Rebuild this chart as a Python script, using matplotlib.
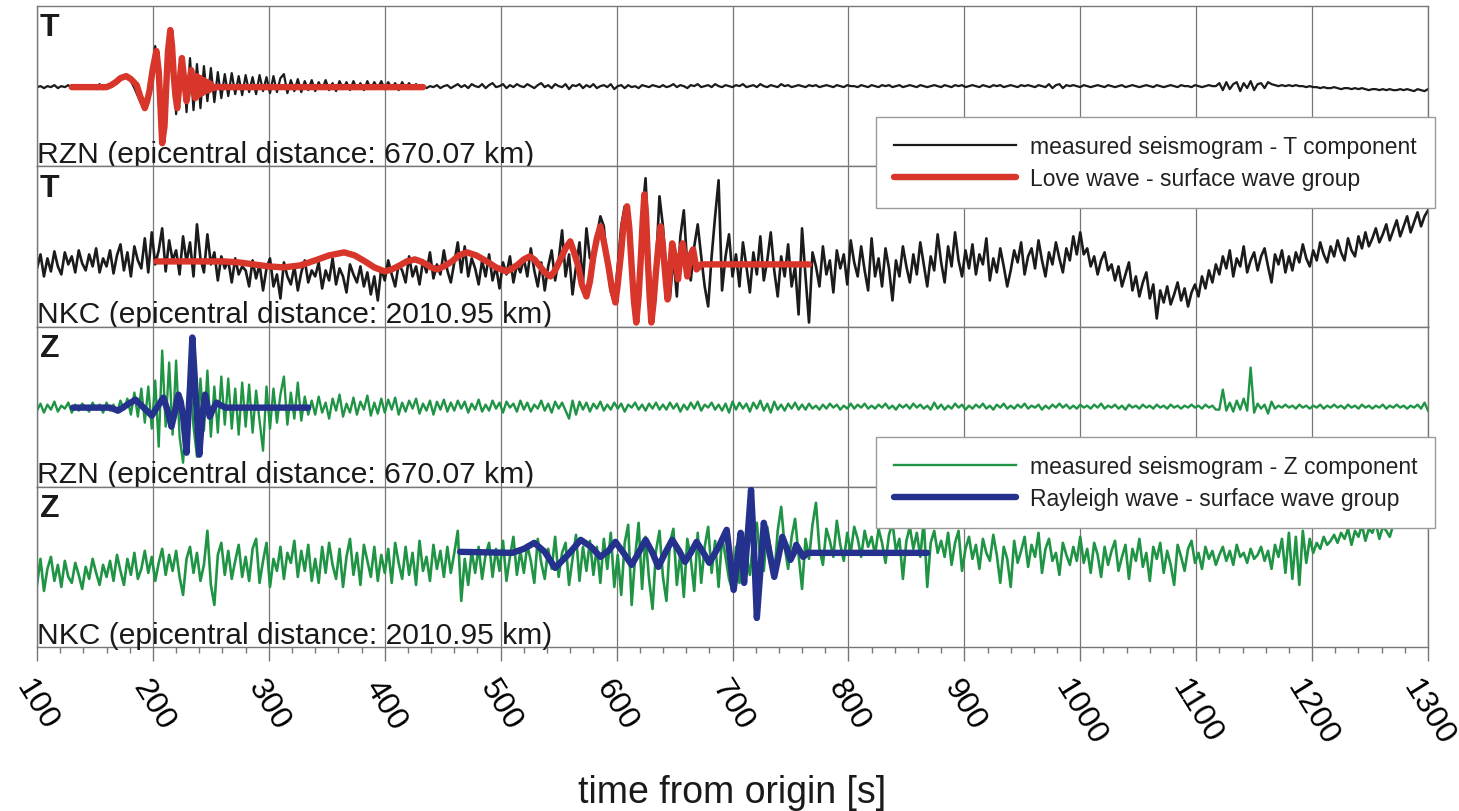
import numpy as np
import matplotlib.pyplot as plt
from matplotlib.ticker import MultipleLocator

plt.rcParams['font.family'] = ['Liberation Sans', 'DejaVu Sans']

# measured seismograms, one sample every 3 s starting at 100 s (amplitude, + up)
rzn_t = [
    -1, 0, -2, 0, -1, 1, -2, 0, -1, 1, -2, -1, 0, -2, 0, -1, 1, -3, 2, -3,
    1, 0, 3, 6, 9, 11, 9, 5, -2, -10, -18, -21, -10, 15, 40, 5, -52, -10, 50, 30,
    -28, 10, 28, -26, 28, -24, 22, -22, 20, -15, 18, -16, 14, -12, 12, -10, 13, -8, 10, -9,
    11, -6, 9, -8, 11, -5, 9, -7, 10, -6, 8, 12, -7, 6, -5, 7, -6, 5, -4, 6,
    -5, 4, -3, 6, -4, 3, -5, 5, -3, 4, -4, 5, -3, 3, -4, 5, -3, 4, -2, 5,
    -3, 4, -2, 3, -4, 4, -2, 3, -3, 2, -2, 1, -2, 0, -1, 1, -2, 0, 1, -2,
    0, 2, -1, 1, -2, 2, 0, -1, 2, -2, 1, 3, -1, 0, 2, -2, 1, -1, 2, 0,
    -1, 2, 0, -2, 1, 3, -1, 1, -2, 2, 0, -1, 2, -3, 1, 0, 2, -2, 1, -1,
    2, -2, 0, 1, -1, 2, -3, 0, 1, -2, 1, -1, 0, -2, 1, 0, -1, 1, 0, -1,
    1, -1, 0, 2, -1, 1, 0, -2, 1, 0, 2, -1, 0, 1, -1, 2, 0, -1, 1, 0,
    -1, 1, 0, 2, -1, 0, 1, -1, 2, 0, -1, 1, 0, -1, 2, 0, 1, -1, 0, 1,
    0, -1, 1, 0, 1, -1, 0, 1, 0, -1, 1, 0, -1, 1, 0, 0, -1, 1, 0, -1,
    1, 0, -1, 1, 0, 1, -1, 0, 1, -1, 0, 1, 0, -1, 1, 0, -1, 0, 1, 0,
    -1, 1, 0, -1, 1, 0, 1, -1, 0, 1, 0, -1, 1, 0, -1, 1, 0, 1, -1, 0,
    1, 0, -1, 1, 0, 1, 0, -1, 1, 0, -1, 2, -2, 1, 2, -2, 1, 0, 1, 0,
    -1, 1, 0, -1, 0, 1, 0, -1, 1, 0, -1, 0, 1, -1, 0, 1, 0, -1, 0, 1,
    0, -1, 1, 0, -1, 0, 1, 0, -1, 1, 0, 0, -1, 1, 0, -1, 0, 1, 0, 0,
    3, -4, 4, -3, 2, 4, -5, 3, -2, 5, -4, 2, 3, -2, 4, 2, 1, 0, 1, 0,
    1, 0, 1, 0, 0, -1, 0, -1, -1, -2, -1, -2, -2, -1, -2, -3, -2, -2, -3, -2,
    -3, -2, -3, -4, -3, -3, -4, -3, -4, -3, -4, -4, -3, -4, -3, -4, -5, -3, -4, -5,
    -3,
]

nkc_t = [
    -22, -8, -30, -12, -25, -5, -20, -28, -6, -18, -10, -26, -4, -17, -24, -8, -20, -2, -26, -12,
    -20, -4, -27, -9, 2, -24, -6, -30, 0, -14, -22, 8, -26, 14, -18, -4, 18, -25, 6, -14,
    -4, -28, 10, -16, 4, -30, 22, -12, -26, 12, -18, -6, -34, -10, -22, -14, -36, -12, -28, -20,
    -24, -40, -14, -32, -18, -44, -22, -12, -40, -28, -52, -16, -30, -38, -20, -44, -26, -14, -36, -24,
    -30, -16, -42, -24, -34, -12, -38, -22, -30, -46, -18, -28, -36, -20, -40, -26, -48, -30, -54, -22,
    -34, -14, -28, -40, -18, -24, -36, -10, -30, -20, -38, -14, -26, -6, -32, -18, -28, -4, -24, -36,
    -16, 4, -26, 0, -30, -12, -22, -38, -14, -30, -8, -34, -20, -42, -16, -28, -10, -36, -18, -26,
    -12, -30, -2, -24, -40, -16, -44, -20, -4, -34, -14, 16, -30, -8, -48, -20, 4, -36, 18, -12,
    -10, 10, 30, 20, -20, -45, -56, -20, 20, 40, 30, -30, -72, -40, 30, 68, -10, -76, -20, 50,
    20, -30, -52, -10, -50, 10, 36, -20, -34, 0, 22, -10, -40, -60, -10, 30, 66, -44, -10, 12,
    -30, -8, -40, 4, -20, -46, -6, -28, 10, -34, -14, 14, -24, -50, -10, -30, 2, -40, -20, -68,
    18, -30, -76, -6, -20, -40, 0, -28, -14, -46, -4, -22, -8, -38, 6, -16, -30, 0, -24, -44,
    8, -30, -12, -40, -2, -22, -54, -14, -30, 0, -20, -36, -8, -28, 4, -18, -40, -10, -24, 12,
    -16, -36, 0, -20, 14, -14, -30, -4, -22, 2, -28, -8, -18, 8, -34, -12, -26, -2, -20, -40,
    -24, -4, -16, 4, -28, -10, -2, -22, 6, -14, -30, -6, -18, 4, -12, -26, -2, -14, 10, -8,
    14, -8, -2, -20, -10, -28, -14, -6, -24, -18, -34, -20, -40, -28, -16, -44, -30, -50, -36, -26,
    -52, -38, -72, -44, -56, -40, -58, -48, -36, -54, -42, -60, -46, -38, -50, -30, -42, -24, -36, -18,
    -28, -10, -22, -4, -30, -12, -20, 0, -26, -14, -6, -24, -10, -2, -20, -36, -8, -18, -4, -26,
    -10, -24, -6, -16, 2, -12, -20, -4, -14, 4, -8, -16, 0, -10, 6, -6, -14, 8, -4, -10,
    10, -2, 14, 0, 8, 18, 4, 12, 22, 6, 16, 26, 10, 20, 30, 14, 24, 34, 20, 30,
    36,
]

rzn_z = [
    -4, 3, -6, 2, -3, 5, -5, 1, -2, 4, -6, 2, -4, 3, -1, -5, 4, -3, 2, -6,
    4, -4, 2, -6, 6, -3, 8, -8, 14, -10, 18, -16, 20, -22, 26, -40, 56, -20, 44, -28,
    46, -30, -56, -10, 30, -20, -50, 28, -24, 36, -30, 20, -26, 30, -18, 28, -22, 18, -28, 24,
    -20, 22, -26, 16, -14, -44, 20, -22, 18, -16, 12, 30, -18, 14, -12, 24, -14, 10, -8, 6,
    -8, 10, -6, 4, -12, 8, -4, 12, -10, 3, -6, 9, -8, 5, -3, 11, -9, 4, -7, 8,
    -6, 7, -3, 9, -8, 4, -5, 6, -2, 8, -7, 3, -4, 6, -8, 5, -3, 7, -5, 4,
    -4, 6, -2, 5, -6, 3, -3, 7, -5, 2, -4, 6, -2, 4, -6, 5, -1, 3, -5, 6,
    -3, 4, -5, 2, -2, 6, -4, 3, -6, 5, -2, 4, -4, -12, 6, -8, 5, -3, 4, -5,
    3, -2, 5, -4, 2, -3, 4, -2, 3, -5, 2, -1, 4, -3, 2, -4, 3, -2, 4, -3,
    2, -3, 4, -2, 3, -5, 2, -3, 4, -2, 5, -4, 2, -1, 4, -3, 2, -4, 3, -6,
    5, -3, 4, -2, 3, -5, 4, -2, 6, -4, 3, -6, 5, -3, 2, -4, 3, -2, 4, -3,
    2, -3, 3, -2, 1, -3, 2, -2, 3, -1, 2, -3, 1, -2, 3, -2, 2, -1, 3, -2,
    1, -2, 2, -1, 3, -2, 1, -3, 2, -1, 2, -2, 3, -1, 2, -2, 1, -3, 4, -2,
    2, -3, 1, -2, 3, -1, 2, -3, 1, -2, 2, -1, 3, -2, 1, -3, 2, -1, 3, -2,
    1, -2, 2, -1, 3, -2, 1, -1, 2, -3, 1, -2, 2, -1, 3, -1, 2, -2, 1, -2,
    2, -1, 1, -2, 2, -1, 3, -2, 1, -1, 2, -2, 1, -3, 2, -1, 1, -2, 2, -1,
    1, -2, 2, -1, 1, -2, 2, -1, 1, -2, 1, -1, 2, -1, 1, -2, 2, -1, 1, -3,
    -3, 17, -4, 4, -5, 6, -3, 8, -4, 39, -6, 3, -2, 2, -7, 5, -2, 1, -1, 2,
    -1, 1, -2, 2, -1, 1, -2, 1, -1, 2, -2, 1, -1, 2, -1, 1, -2, 2, -1, 1,
    -2, 2, -1, 1, -2, 1, -1, 2, -2, 1, -1, 2, -1, 1, -2, 1, -1, 2, -2, 4,
    -4,
]

nkc_z = [
    -18, 8, -24, -2, 10, -14, 2, -20, 6, -10, -16, 4, -8, -22, 0, -12, 8, -6, -18, 2,
    -10, 6, -14, 12, -4, -18, 8, -8, 14, -12, -2, 16, -6, 10, -14, 4, 18, -8, 12, -4,
    16, -10, -28, 8, 20, -6, 14, -14, 2, 36, -18, -38, 12, 24, -8, 16, -12, 6, 22, -10,
    10, -14, 18, 28, -16, 6, 24, -20, 8, -4, 20, -12, 14, 4, 26, -10, 16, -4, 22, -14,
    8, -16, 20, -6, 24, 2, -12, 18, -20, 10, 28, -8, 14, -18, 22, 6, -10, 20, -14, 12,
    -6, 18, -16, 24, 4, -12, 20, -8, 14, -18, 26, -4, 10, -14, 22, -2, 16, -10, 20, -6,
    14, 36, -34, 8, -18, 16, -6, 20, -12, 12, 24, -10, 18, -4, 26, -14, 10, 30, -8, 16,
    -6, 22, 6, -16, 28, 4, -12, 18, -2, 30, -10, 14, 24, -18, 8, 32, -14, 20, -4, 26,
    -8, 20, -16, 28, -2, 34, -20, 12, -28, 24, 42, -38, 10, 44, -22, 30, -12, -42, 16, 36,
    -10, -34, 24, 38, -18, 14, -30, 28, 8, -24, 34, -16, 20, 40, -6, 26, -20, 30, 10, -12,
    -24, 20, -16, 34, 10, -8, 28, 44, 6, -4, 40, 16, -10, 36, 60, 20, -2, 30, 48, 12,
    -22, 28, 8, 42, 64, 18, 2, 38, 26, 10, 46, 22, 6, 34, 14, 40, 28, 10, 36, 20,
    30, 12, 38, 24, 4, 32, 44, 16, 28, -12, 26, 40, 18, 34, 10, 46, -20, 24, 36, 14,
    26, 10, 34, 2, 24, 36, -4, 18, 30, 8, 22, -2, 28, 14, 6, 32, 12, -16, 20, 8,
    -20, 26, 4, 16, 30, 0, 22, 10, 34, -6, 18, 28, 6, 14, -8, 24, 12, 2, 20, 6,
    30, 4, 18, -6, 24, 12, -10, 20, 2, 16, 26, -4, 10, 22, -12, 18, 6, 28, 0, 14,
    -14, 20, 8, 24, -6, 16, 2, -18, 22, 10, -4, 18, 26, 4, 14, -2, 20, 8, 16, 2,
    12, 20, 6, 16, 2, 22, 10, 14, 4, 18, 8, 12, 20, 6, 16, -2, 22, 10, 28, -6,
    34, -12, 30, -18, 36, 4, 28, 14, 24, 18, 30, 22, 26, 32, 24, 34, 28, 38, 22, 36,
    30, 42, 26, 38, 34, 44, 28, 40, 36, 30, 42,
]

# modelled surface wave groups: time [s] and amplitude
love_rzn_time = [130, 160, 164, 168, 172, 177, 181, 186, 189, 193, 195, 197, 200, 203,
                 205, 206.5, 208, 210, 211.5, 213, 215, 216.5, 218, 219.5, 221, 223,
                 225, 227, 229, 231, 233, 235, 236.5, 238, 239.5, 241, 242.5, 244,
                 245.5, 247, 248.5, 250, 252, 255, 433]
love_rzn_amp = [-1, -1, 1, 4, 8, 10, 7, 1, -10, -22, -15, -5, 18, 35,
                15, -20, -57, -40, 0, 35, 56, 40, 10, -10, -22, 4,
                28, 6, -15, 0, 16, 0, -12, 10, -9, 8, -7, 6,
                -5, 4, -4, 2, -2, -1, -1]

love_nkc_time = [203, 230, 261, 274, 287, 300, 313, 327, 340, 352, 365, 374, 383, 391,
                 400, 406, 413, 419, 426, 431, 436, 440, 445, 451, 458, 464, 471, 479,
                 488, 496, 505, 510, 515, 520, 525, 529, 534, 538, 543, 547, 552, 556,
                 560, 563, 567, 570, 574, 577, 580, 583, 586, 589, 593, 596, 599, 601,
                 604, 606, 609, 611, 613, 615, 617, 619, 621, 622.5, 624, 625.5, 627,
                 628.5, 630, 632, 634, 636, 638, 640, 641, 642.5, 644, 646, 648, 651,
                 653, 655, 657, 659, 661, 664, 666, 669, 673, 766]
love_nkc_amp = [-15, -15, -15, -16, -18, -20, -21, -19, -14, -9, -6, -9, -15, -21,
                -25, -23, -19, -15, -13, -15, -18, -21, -23, -20, -15, -9, -6, -9,
                -15, -21, -25, -22, -18, -13, -10, -13, -20, -26, -30, -24, -12, -2,
                5, -5, -20, -38, -50, -35, -10, 8, 20, 5, -20, -42, -56, -38,
                -5, 22, 40, 18, -20, -55, -76, -50, -10, 25, 52, 30, -15,
                -50, -76, -55, -25, 0, 20, 0, -15, -35, -53, -25, 3, -15,
                -33, -10, 3, -12, -30, -8, -3, -23, -18, -18]

rayleigh_rzn_time = [131, 163, 170, 178, 185, 192, 199, 204, 209, 213, 216, 219, 222, 224,
                     226, 229, 230.5, 232, 234, 235.5, 237, 238.5, 240, 241.5, 243, 245,
                     247, 249, 252, 255, 259, 263, 334]
rayleigh_rzn_amp = [-1, -1, -4, 2, 7, -1, -9, 0, 9, -5, -20, -5, 12, 5,
                    -10, -46, -10, 20, 69, 40, 10, -20, -48, -25, -5, 12,
                    0, -10, -2, 4, 1, -1, -1]

rayleigh_nkc_time = [465, 510, 520, 529, 538, 547, 558, 569, 578, 586, 593, 599, 606, 613,
                     619, 625, 631, 636, 642, 648, 654, 659, 664, 669, 675, 680, 688, 695,
                     698, 701, 704, 707, 708.5, 710, 713, 716, 718.5, 721, 724, 727, 731,
                     736, 740, 743, 747, 750, 753, 755, 758, 761, 765, 868]
rayleigh_nkc_amp = [15, 14, 18, 24, 15, -1, 12, 27, 20, 10, 16, 25, 14, 2,
                    14, 27, 14, 0, 14, 27, 16, 5, 14, 25, 14, 4, 20, 37,
                    8, -23, 5, 34, 10, -16, 30, 77, 20, -51, -5, 44, 20,
                    -10, 12, 30, 18, 7, 14, 22, 16, 10, 14, 14]

components = ['T', 'T', 'Z', 'Z']
stations = ['RZN (epicentral distance: 670.07 km)',
            'NKC (epicentral distance: 2010.95 km)',
            'RZN (epicentral distance: 670.07 km)',
            'NKC (epicentral distance: 2010.95 km)']
x_ticks = list(range(100, 1301, 100))

BLACK = '#1b1b1b'
RED = '#d8352b'
GREEN = '#1f9444'
BLUE = '#24318d'
GRID = '#777777'


def sample_times(values):
    return 100 + 3 * np.arange(len(values))


fig, axes = plt.subplots(4, 1, sharex=True, figsize=(14.59, 8.12), dpi=100)
fig.subplots_adjust(left=37 / 1459, right=1428 / 1459, top=1 - 7 / 812,
                    bottom=1 - 648 / 812, hspace=0)

measured = [rzn_t, nkc_t, rzn_z, nkc_z]
measured_colors = [BLACK, BLACK, GREEN, GREEN]
measured_widths = [1.6, 1.9, 1.7, 1.9]
waves = [(love_rzn_time, love_rzn_amp), (love_nkc_time, love_nkc_amp),
         (rayleigh_rzn_time, rayleigh_rzn_amp), (rayleigh_nkc_time, rayleigh_nkc_amp)]
wave_colors = [RED, RED, BLUE, BLUE]

handles = []
for i, ax in enumerate(axes):
    trace = measured[i]
    l1, = ax.plot(sample_times(trace), trace, color=measured_colors[i],
                  lw=measured_widths[i], zorder=2)
    wt, wa = waves[i]
    l2, = ax.plot(wt, wa, color=wave_colors[i], lw=4.6, zorder=3,
                  solid_capstyle='round', solid_joinstyle='round')
    handles.append((l1, l2))

    ax.set_ylim(-80, 80)
    ax.set_xlim(100, 1300)
    ax.set_yticks([])
    ax.grid(axis='x', which='major', color=GRID, lw=0.9, zorder=0)
    for sp in ax.spines.values():
        sp.set_color(GRID)
        sp.set_linewidth(1.0)

    ax.text(0.002, 0.96, components[i], transform=ax.transAxes, fontsize=23,
            fontweight='bold', va='top', ha='left', color='#1a1a1a')
    ax.text(0.0, 0.028, stations[i], transform=ax.transAxes, fontsize=21.6,
            va='baseline', ha='left', color='#1a1a1a', zorder=4)
    if i < 3:
        ax.tick_params(axis='x', which='both', bottom=False, labelbottom=False)

ax = axes[-1]
ax.xaxis.set_major_locator(MultipleLocator(100))
ax.xaxis.set_minor_locator(MultipleLocator(20))
ax.set_xticks(x_ticks)
ax.tick_params(axis='x', which='major', direction='out', length=10, width=1.0,
               color=GRID, labelsize=23, pad=9)
ax.tick_params(axis='x', which='minor', direction='out', length=4.5, width=1.0, color=GRID)
for lab in ax.get_xticklabels():
    lab.set_rotation(-58)
    lab.set_ha('center')
    lab.set_va('top')
ax.set_xlabel('time from origin [s]', fontsize=27, color='#1a1a1a')
ax.xaxis.set_label_coords(0.5, -0.79)

legend_style = dict(loc='upper left', fontsize=16.5, frameon=True, fancybox=False,
                    framealpha=1, edgecolor='#9a9a9a', borderpad=0.8, labelspacing=0.38,
                    handlelength=5.3, handletextpad=0.6, borderaxespad=0,
                    bbox_transform=fig.transFigure)

leg1 = fig.legend(handles[0], ['measured seismogram - T component',
                               'Love wave - surface wave group'],
                  bbox_to_anchor=(876 / 1459, 1 - 118 / 812), **legend_style)
leg2 = fig.legend(handles[2], ['measured seismogram - Z component',
                               'Rayleigh wave - surface wave group'],
                  bbox_to_anchor=(876 / 1459, 1 - 438 / 812), **legend_style)
for leg in (leg1, leg2):
    leg.get_frame().set_linewidth(1.0)
    for txt in leg.get_texts():
        txt.set_color('#222222')

fig.savefig('out.png', dpi=100)
